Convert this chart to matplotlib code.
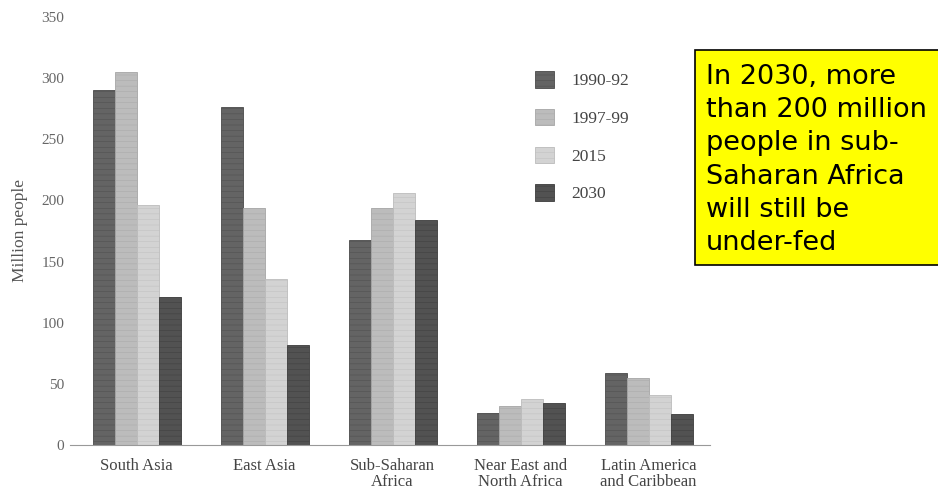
import matplotlib
matplotlib.use("Agg")
import matplotlib.pyplot as plt
from matplotlib.patches import Rectangle
import numpy as np

regions = ["South Asia", "East Asia", "Sub-Saharan\nAfrica",
           "Near East and\nNorth Africa", "Latin America\nand Caribbean"]
periods = ["1990-92", "1997-99", "2015", "2030"]
v_1990 = [290, 276, 168, 26, 59]
v_1997 = [305, 194, 194, 32, 55]
v_2015 = [196, 136, 206, 38, 41]
v_2030 = [121, 82, 184, 34, 25]
yticks = [0, 50, 100, 150, 200, 250, 300, 350]
note = "In 2030, more\nthan 200 million\npeople in sub-\nSaharan Africa\nwill still be\nunder-fed"

series = [v_1990, v_1997, v_2015, v_2030]
colors = ["#646464", "#bcbcbc", "#d3d3d3", "#525252"]
edges = ["#4a4a4a", "#a6a6a6", "#bcbcbc", "#3c3c3c"]

serif = "Liberation Serif"
plt.rcParams["hatch.linewidth"] = 0.3

fig = plt.figure(figsize=(9.38, 4.93), dpi=100)
ax = fig.add_axes([70 / 938, 48 / 493, 640 / 938, 428 / 493])

x = np.arange(len(regions))
w = 0.172
for i, vals in enumerate(series):
    bars = ax.bar(x + (i - 1.5) * w, vals, width=w, color=colors[i],
                  edgecolor=edges[i], linewidth=0.6, label=periods[i], hatch="---")

ax.set_xlim(-0.52, 4.48)
ax.set_ylim(0, 350)
ax.set_yticks(yticks)
ax.set_yticklabels([str(t) for t in yticks], family=serif, fontsize=11, color="#666666")
ax.set_xticks(x)
ax.set_xticklabels(regions, family=serif, fontsize=12, color="#444444", linespacing=1.0)
ax.tick_params(axis="both", length=0)
ax.tick_params(axis="x", pad=9)
ax.tick_params(axis="y", pad=4)
for s in ["top", "right", "left"]:
    ax.spines[s].set_visible(False)
ax.spines["bottom"].set_color("#999999")
ax.spines["bottom"].set_linewidth(0.8)
ax.set_ylabel("Million people", family=serif, fontsize=12.5, color="#555555", labelpad=10)

leg = ax.legend(loc="upper left", bbox_to_anchor=(0.702, 0.91), frameon=False,
                prop={"family": serif, "size": 12.5}, handlelength=1.1, handleheight=1.1,
                labelspacing=1.12, handletextpad=1.0)
for t in leg.get_texts():
    t.set_color("#444444")

# yellow callout box
fig.patches.append(Rectangle((695 / 938, 1 - 265 / 493), 250 / 938, 215 / 493,
                             transform=fig.transFigure, facecolor="#ffff00",
                             edgecolor="black", linewidth=1.2, zorder=5))
fig.text(706 / 938, 1 - 64 / 493, note, fontsize=19.5, family="DejaVu Sans",
         va="top", ha="left", linespacing=1.36, zorder=6)

fig.savefig("out.png", dpi=100)
